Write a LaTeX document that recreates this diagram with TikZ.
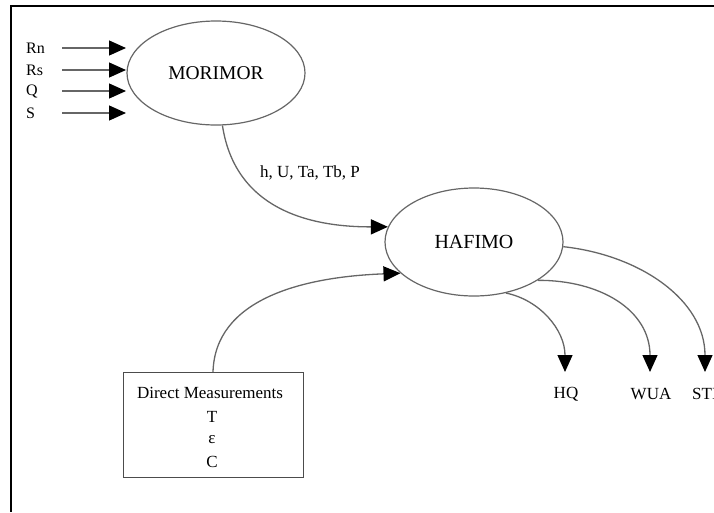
\documentclass[tikz,border=0pt]{standalone}
\usepackage{fontspec}
\setmainfont{Liberation Serif}
\usetikzlibrary{shapes.geometric,arrows.meta}
\begin{document}
\begin{tikzpicture}[x=1pt,y=-1pt,
  conn/.style={draw=black!60, line width=1.3pt, -{Triangle[length=17pt,width=15pt,fill=black,color=black]}},
  model/.style={ellipse, draw=black!60, line width=1.2pt, minimum width=178pt, minimum height=104pt, inner sep=0pt},
  lab/.style={inner sep=0pt, font=\fontsize{16}{16}\selectfont},
  outlab/.style={inner sep=0pt, font=\fontsize{17}{17}\selectfont}]
\useasboundingbox (0,0) rectangle (714,512);
% frame
\draw[line width=2.2pt] (714,6) -- (11,6) -- (11,512);
% models
\node[model, font=\fontsize{19.5}{19.5}\selectfont] (mor) at (216,73) {MORIMOR};
\node[model, minimum height=108pt, font=\fontsize{20}{20}\selectfont] (haf) at (474,242) {HAFIMO};
% inputs
\node[lab, anchor=west] (rn) at (26,48) {Rn};
\node[lab, anchor=west] (rs) at (26,70) {Rs};
\node[lab, anchor=west] (q) at (26,91) {Q};
\node[lab, anchor=west] (s) at (26,113) {S};
\foreach \n/\y in {rn/48,rs/70,q/91,s/113}{
  \coordinate (\n a) at (62,\y);
  \coordinate (\n b) at (126,\y);
  \draw[conn] (\n a) -- (\n b);
}
% morimor -> hafimo
\draw[conn] (mor.-83) .. controls (236,215) and (320,227) .. (haf.170);
\node[lab, font=\fontsize{17}{17}\selectfont] (vars) at (310,173) {h, U, Ta, Tb, P};
% direct measurements
\node[draw=black!70, line width=1.3pt, minimum width=180pt, minimum height=105pt, anchor=north west, inner sep=0pt] (dm) at (123,372) {};
\node[inner sep=0pt, font=\fontsize{17}{17}\selectfont] (dmt) at (210,393) {Direct Measurements};
\node[inner sep=0pt, font=\fontsize{17}{17}\selectfont] (t1) at (212,417) {T};
\node[inner sep=0pt, font=\fontsize{17}{17}\selectfont] (t2) at (212,440) {ε};
\node[inner sep=0pt, font=\fontsize{17}{17}\selectfont] (t3) at (212,462) {C};
\draw[conn] (213,372) coordinate (dmtop) .. controls (215,300) and (300,277) .. (haf.203);
% outputs
\coordinate (hqtip) at (565,372);
\coordinate (wuatip) at (650,372);
\coordinate (stitip) at (705,372);
\node[outlab] (hq) at (566,394) {HQ};
\node[outlab] (wua) at (651,394) {WUA};
\node[outlab, anchor=west] (sti) at (692,394) {STI};
\draw[conn] (haf.-58) .. controls (540,300) and (565,330) .. (hqtip);
\draw[conn] (haf.-31) .. controls (600,280) and (650,310) .. (wuatip);
\draw[conn] (haf.-3) .. controls (640,255) and (705,300) .. (stitip);
\end{tikzpicture}
\end{document}
